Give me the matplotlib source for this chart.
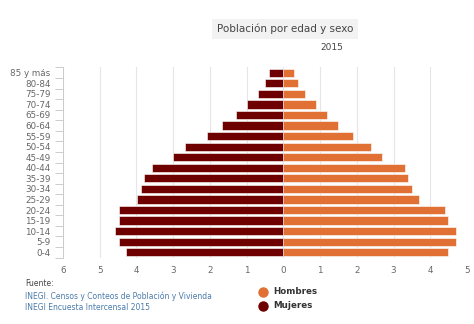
import matplotlib
matplotlib.use('Agg')
import matplotlib.pyplot as plt
import numpy as np

labels = ['0-4', '5-9', '10-14', '15-19', '20-24', '25-29', '30-34', '35-39',
          '40-44', '45-49', '50-54', '55-59', '60-64', '65-69', '70-74',
          '75-79', '80-84', '85 y más']
hombres = [4.49, 4.69, 4.69, 4.49, 4.39, 3.69, 3.50, 3.40, 3.30, 2.68,
           2.39, 1.89, 1.50, 1.20, 0.89, 0.58, 0.39, 0.28]
mujeres = [4.29, 4.48, 4.58, 4.48, 4.48, 3.98, 3.88, 3.79, 3.59, 3.00,
           2.68, 2.09, 1.68, 1.30, 0.99, 0.68, 0.49, 0.38]
xticks = [-6, -5, -4, -3, -2, -1, 0, 1, 2, 3, 4, 5]

c_h = '#e07033'
c_m = '#6e0000'
grey = '#666666'

fig = plt.figure(figsize=(4.74, 3.24), dpi=100)
ax = fig.add_axes([63/474, 1 - 257.6/324, (467 - 63)/474, (257.6 - 67.4)/324])

y = np.arange(len(labels))
ax.barh(y, hombres, height=0.78, color=c_h, edgecolor='white', linewidth=0.4, zorder=3)
ax.barh(y, -np.array(mujeres), height=0.78, color=c_m, edgecolor='white', linewidth=0.4, zorder=3)

ax.set_xlim(-6, 5)
ax.set_ylim(-0.5, len(labels) - 0.5)
ax.set_xticks(xticks)
ax.set_xticklabels([str(abs(v)) for v in xticks])
ax.grid(axis='x', color='#e6e6e6', linewidth=0.8, zorder=0)
ax.set_yticks(y)
ax.set_yticklabels(labels)
ax.set_yticks(np.arange(-0.5, len(labels)), minor=True)
ax.tick_params(axis='y', which='major', length=0, labelsize=6.3, labelcolor=grey, pad=9)
ax.tick_params(axis='y', which='minor', length=6, color='#cccccc', width=0.7)
ax.tick_params(axis='x', length=0, labelsize=6.3, labelcolor=grey, pad=6)
for s in ['top', 'right', 'bottom']:
    ax.spines[s].set_visible(False)
ax.spines['left'].set_color('#cccccc')
ax.spines['left'].set_linewidth(0.7)

# title with light box
fig.text(285/474, 1 - 29/324, 'Población por edad y sexo', ha='center', va='center',
         fontsize=7.5, color='#444444',
         bbox=dict(boxstyle='square,pad=0.5', facecolor='#f2f2f2', edgecolor='none'))
fig.text(343/474, 1 - 48/324, '2015', ha='right', va='center', fontsize=6.5, color='#444444')

# source
fig.text(25/474, 1 - 283/324, 'Fuente:', ha='left', va='center', fontsize=5.5, color='#444444')
fig.text(25/474, 1 - 296/324, 'INEGI. Censos y Conteos de Población y Vivienda',
         ha='left', va='center', fontsize=5.5, color='#4a7bab')
fig.text(25/474, 1 - 308/324, 'INEGI Encuesta Intercensal 2015',
         ha='left', va='center', fontsize=5.5, color='#4a7bab')

# legend
fig.lines.append(plt.Line2D([263/474], [1 - 292/324], marker='o', markersize=6.5,
                            color=c_h, transform=fig.transFigure))
fig.lines.append(plt.Line2D([263/474], [1 - 306/324], marker='o', markersize=6.5,
                            color=c_m, transform=fig.transFigure))
fig.text(273/474, 1 - 292/324, 'Hombres', ha='left', va='center', fontsize=6.3,
         fontweight='bold', color='#333333')
fig.text(273/474, 1 - 306/324, 'Mujeres', ha='left', va='center', fontsize=6.3,
         fontweight='bold', color='#333333')

fig.savefig('out.png', dpi=100)
